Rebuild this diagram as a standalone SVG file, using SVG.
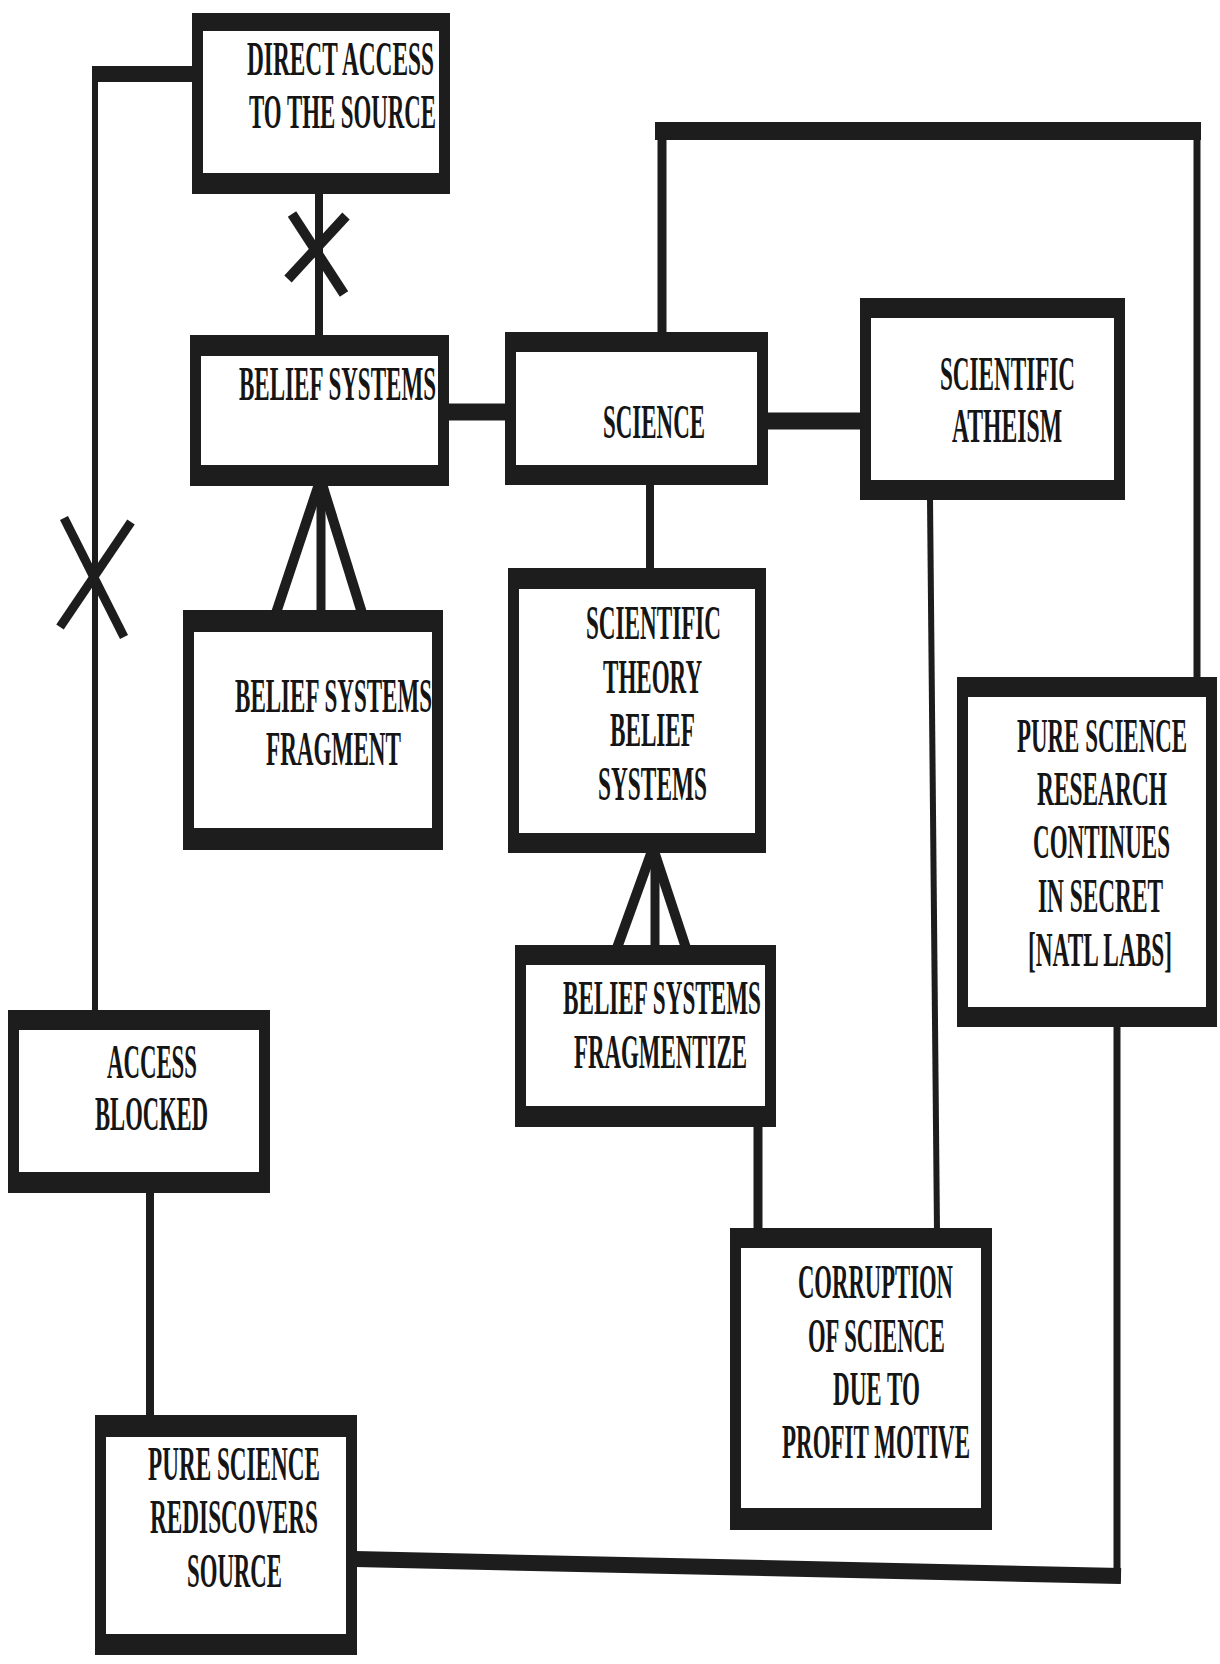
<svg xmlns="http://www.w3.org/2000/svg" width="1220" height="1664" viewBox="0 0 1220 1664">
<style>
.bx{fill:#fff;stroke:#1d1d1d;stroke-width:11;stroke-linejoin:round}
.bar{fill:#1d1d1d}
.c{stroke:#1d1d1d;fill:none;stroke-linecap:butt}
.t{font-family:"Liberation Serif","Times New Roman",serif;font-weight:bold;font-size:48px;fill:#151515}
</style>
<rect x="0" y="0" width="1220" height="1664" fill="#fff"/>
<g id="connectors">
  <line class="c" x1="93" y1="74" x2="196" y2="74" stroke-width="16"/>
  <line class="c" x1="95" y1="66" x2="95" y2="1013" stroke-width="6"/>
  <line class="c" x1="64" y1="518" x2="124" y2="637" stroke-width="9"/>
  <line class="c" x1="131" y1="522" x2="60" y2="627" stroke-width="9"/>
  <line class="c" x1="319" y1="192" x2="319" y2="338" stroke-width="8"/>
  <line class="c" x1="292" y1="214" x2="344" y2="294" stroke-width="10"/>
  <line class="c" x1="346" y1="216" x2="288" y2="279" stroke-width="10"/>
  <line class="c" x1="447" y1="412" x2="508" y2="412" stroke-width="17"/>
  <line class="c" x1="662" y1="334" x2="662" y2="124" stroke-width="9"/>
  <line class="c" x1="655" y1="131" x2="1201" y2="131" stroke-width="18"/>
  <line class="c" x1="1197" y1="131" x2="1197" y2="680" stroke-width="7"/>
  <line class="c" x1="766" y1="421" x2="862" y2="421" stroke-width="17"/>
  <line class="c" x1="650" y1="483" x2="650" y2="570" stroke-width="8"/>
  <line class="c" x1="319" y1="484" x2="276" y2="613" stroke-width="10"/>
  <line class="c" x1="322" y1="484" x2="362" y2="613" stroke-width="10"/>
  <line class="c" x1="321" y1="484" x2="321" y2="613" stroke-width="9"/>
  <line class="c" x1="652" y1="851" x2="617" y2="948" stroke-width="10"/>
  <line class="c" x1="654" y1="851" x2="686" y2="948" stroke-width="10"/>
  <line class="c" x1="655" y1="851" x2="655" y2="948" stroke-width="9"/>
  <line class="c" x1="758" y1="1125" x2="758" y2="1231" stroke-width="9"/>
  <line class="c" x1="930" y1="498" x2="937" y2="1231" stroke-width="6"/>
  <line class="c" x1="1117" y1="1025" x2="1117" y2="1582" stroke-width="7"/>
  <line class="c" x1="355" y1="1559" x2="1121" y2="1576" stroke-width="16"/>
  <line class="c" x1="150" y1="1191" x2="150" y2="1418" stroke-width="8"/>
</g>
<g id="node-direct-access">
  <rect class="bx" x="197.5" y="18.5" width="247" height="170"/>
  <rect class="bar" x="192" y="13" width="258" height="18"/>
  <rect class="bar" x="192" y="173" width="258" height="21"/>
  <g transform="scale(0.48 1)">
    <text class="t" x="514.6" y="75" textLength="389.6" lengthAdjust="spacingAndGlyphs">DIRECT ACCESS</text>
    <text class="t" x="518.8" y="128" textLength="389.6" lengthAdjust="spacingAndGlyphs">TO THE SOURCE</text>
  </g>
</g>
<g id="node-belief-systems">
  <rect class="bx" x="195.5" y="340.5" width="248" height="140"/>
  <rect class="bar" x="190" y="335" width="259" height="21"/>
  <rect class="bar" x="190" y="465" width="259" height="21"/>
  <g transform="scale(0.48 1)">
    <text class="t" x="497.9" y="400" textLength="410.4" lengthAdjust="spacingAndGlyphs">BELIEF SYSTEMS</text>
  </g>
</g>
<g id="node-science">
  <rect class="bx" x="510.5" y="337.5" width="252" height="142"/>
  <rect class="bar" x="505" y="332" width="263" height="20"/>
  <rect class="bar" x="505" y="465" width="263" height="20"/>
  <g transform="scale(0.48 1)">
    <text class="t" x="1256.3" y="438" textLength="212.5" lengthAdjust="spacingAndGlyphs">SCIENCE</text>
  </g>
</g>
<g id="node-scientific-atheism">
  <rect class="bx" x="865.5" y="303.5" width="254" height="191"/>
  <rect class="bar" x="860" y="298" width="265" height="20"/>
  <rect class="bar" x="860" y="480" width="265" height="20"/>
  <g transform="scale(0.48 1)">
    <text class="t" x="1958.3" y="390" textLength="281.3" lengthAdjust="spacingAndGlyphs">SCIENTIFIC</text>
    <text class="t" x="1983.3" y="442" textLength="229.2" lengthAdjust="spacingAndGlyphs">ATHEISM</text>
  </g>
</g>
<g id="node-belief-systems-fragment">
  <rect class="bx" x="188.5" y="615.5" width="249" height="229"/>
  <rect class="bar" x="183" y="610" width="260" height="22"/>
  <rect class="bar" x="183" y="828" width="260" height="22"/>
  <g transform="scale(0.48 1)">
    <text class="t" x="489.6" y="712" textLength="410.4" lengthAdjust="spacingAndGlyphs">BELIEF SYSTEMS</text>
    <text class="t" x="554.2" y="765" textLength="281.3" lengthAdjust="spacingAndGlyphs">FRAGMENT</text>
  </g>
</g>
<g id="node-scientific-theory">
  <rect class="bx" x="513.5" y="573.5" width="247" height="274"/>
  <rect class="bar" x="508" y="568" width="258" height="21"/>
  <rect class="bar" x="508" y="833" width="258" height="20"/>
  <g transform="scale(0.48 1)">
    <text class="t" x="1220.8" y="639" textLength="281.3" lengthAdjust="spacingAndGlyphs">SCIENTIFIC</text>
    <text class="t" x="1256.3" y="693" textLength="206.3" lengthAdjust="spacingAndGlyphs">THEORY</text>
    <text class="t" x="1270.8" y="746" textLength="177.1" lengthAdjust="spacingAndGlyphs">BELIEF</text>
    <text class="t" x="1245.8" y="800" textLength="227.1" lengthAdjust="spacingAndGlyphs">SYSTEMS</text>
  </g>
</g>
<g id="node-belief-systems-fragmentize">
  <rect class="bx" x="520.5" y="950.5" width="250" height="171"/>
  <rect class="bar" x="515" y="945" width="261" height="20"/>
  <rect class="bar" x="515" y="1106" width="261" height="21"/>
  <g transform="scale(0.48 1)">
    <text class="t" x="1172.9" y="1014" textLength="412.5" lengthAdjust="spacingAndGlyphs">BELIEF SYSTEMS</text>
    <text class="t" x="1195.8" y="1068" textLength="360.4" lengthAdjust="spacingAndGlyphs">FRAGMENTIZE</text>
  </g>
</g>
<g id="node-pure-science-research">
  <rect class="bx" x="962.5" y="682.5" width="249" height="339"/>
  <rect class="bar" x="957" y="677" width="260" height="20"/>
  <rect class="bar" x="957" y="1007" width="260" height="20"/>
  <g transform="scale(0.48 1)">
    <text class="t" x="2118.8" y="752" textLength="354.2" lengthAdjust="spacingAndGlyphs">PURE SCIENCE</text>
    <text class="t" x="2160.4" y="805" textLength="270.8" lengthAdjust="spacingAndGlyphs">RESEARCH</text>
    <text class="t" x="2152.1" y="858" textLength="285.4" lengthAdjust="spacingAndGlyphs">CONTINUES</text>
    <text class="t" x="2162.5" y="912" textLength="260.4" lengthAdjust="spacingAndGlyphs">IN SECRET</text>
    <text class="t" x="2141.7" y="966" textLength="300" lengthAdjust="spacingAndGlyphs">[NATL LABS]</text>
  </g>
</g>
<g id="node-access-blocked">
  <rect class="bx" x="13.5" y="1015.5" width="251" height="172"/>
  <rect class="bar" x="8" y="1010" width="262" height="20"/>
  <rect class="bar" x="8" y="1172" width="262" height="21"/>
  <g transform="scale(0.48 1)">
    <text class="t" x="222.9" y="1078" textLength="187.5" lengthAdjust="spacingAndGlyphs">ACCESS</text>
    <text class="t" x="197.9" y="1130" textLength="235.4" lengthAdjust="spacingAndGlyphs">BLOCKED</text>
  </g>
</g>
<g id="node-corruption">
  <rect class="bx" x="735.5" y="1233.5" width="251" height="291"/>
  <rect class="bar" x="730" y="1228" width="262" height="20"/>
  <rect class="bar" x="730" y="1508" width="262" height="22"/>
  <g transform="scale(0.48 1)">
    <text class="t" x="1662.5" y="1298" textLength="322.9" lengthAdjust="spacingAndGlyphs">CORRUPTION</text>
    <text class="t" x="1683.3" y="1352" textLength="285.4" lengthAdjust="spacingAndGlyphs">OF SCIENCE</text>
    <text class="t" x="1735.4" y="1405" textLength="181.3" lengthAdjust="spacingAndGlyphs">DUE TO</text>
    <text class="t" x="1629.2" y="1458" textLength="391.7" lengthAdjust="spacingAndGlyphs">PROFIT MOTIVE</text>
  </g>
</g>
<g id="node-pure-science-rediscovers">
  <rect class="bx" x="100.5" y="1420.5" width="251" height="229"/>
  <rect class="bar" x="95" y="1415" width="262" height="22"/>
  <rect class="bar" x="95" y="1634" width="262" height="21"/>
  <g transform="scale(0.48 1)">
    <text class="t" x="308.3" y="1480" textLength="358.3" lengthAdjust="spacingAndGlyphs">PURE SCIENCE</text>
    <text class="t" x="312.5" y="1533" textLength="350" lengthAdjust="spacingAndGlyphs">REDISCOVERS</text>
    <text class="t" x="389.6" y="1587" textLength="197.9" lengthAdjust="spacingAndGlyphs">SOURCE</text>
  </g>
</g>
</svg>
